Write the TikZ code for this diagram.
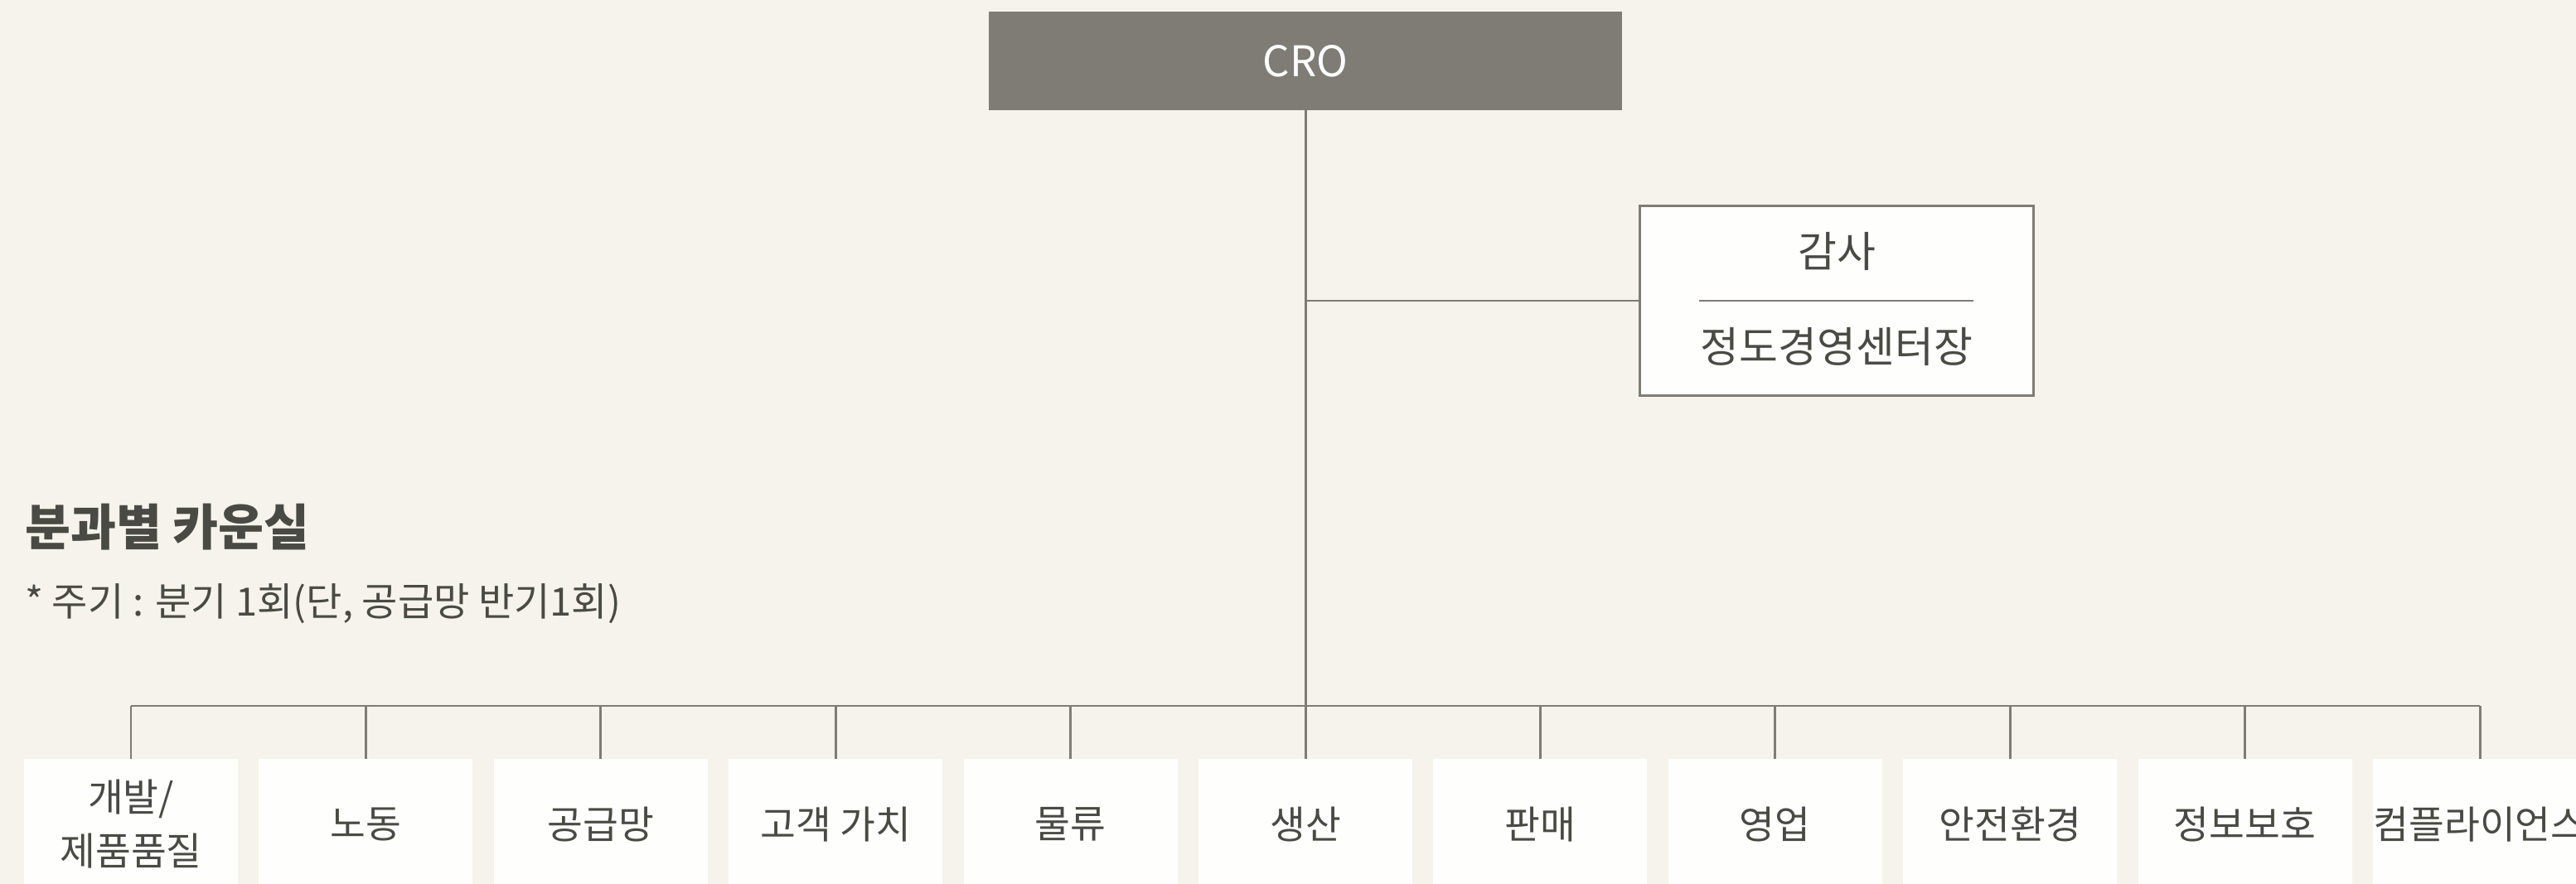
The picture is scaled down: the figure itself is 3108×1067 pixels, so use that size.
\documentclass[tikz,border=0pt]{standalone}
\usepackage{fontspec}
\setmainfont{Noto Sans CJK KR}
\usepackage{tikz}
\usetikzlibrary{positioning,calc}
\definecolor{bgcolor}{RGB}{245,243,236}
\definecolor{headcolor}{RGB}{126,124,117}
\definecolor{linecolor}{RGB}{126,124,117}
\definecolor{textcolor}{RGB}{74,74,69}
\definecolor{boxcolor}{RGB}{254,254,252}
\tikzset{every node/.append style={align=center}}
\tikzset{
  unitbox/.style={fill=boxcolor, minimum width=5.16cm, minimum height=3.16cm, inner sep=0pt, text=textcolor, font=\fontsize{26.5}{37}\selectfont},
  orgline/.style={draw=linecolor, line width=1.7pt},
}

\begin{document}
\begin{tikzpicture}[x=0.02cm, y=-0.02cm]
        % Page
        \fill[bgcolor] (0,0) rectangle (3108,1067);
        \useasboundingbox (0,0) rectangle (3108,1067);
        \clip (0,0) rectangle (3108,1067);

        % Head
        \node[fill=headcolor, minimum width=15.3cm, minimum height=2.38cm, text=white, font=\fontsize{29}{34}\selectfont] (cro) at (1575,73.5) {CRO};

        % Audit
        \node[draw=linecolor, line width=1.7pt, fill=boxcolor, minimum width=9.52cm, minimum height=4.6cm] (audit) at (2216,363) {};
        \node[text=textcolor, font=\fontsize{29}{33}\selectfont] (auditTop) at (2216,303) {감사};
        \node[text=textcolor, font=\fontsize{29}{33}\selectfont] (auditBottom) at (2216,418) {정도경영센터장};
        \draw[orgline] ([xshift=1.46cm]audit.west) -- ([xshift=-1.48cm]audit.east);

        % Council title
        \node[anchor=west, inner sep=0pt, text=textcolor, font=\fontsize{34}{40}\selectfont\bfseries] (title) at (30,636) {분과별 카운실};
        \node[anchor=west, inner sep=0pt, text=textcolor, font=\fontsize{26.8}{32}\selectfont] (note) at (30,729) {* 주기 : 분기 1회(단, 공급망 반기1회)};

        % Councils
        \node[unitbox] (b1) at (158,995) {개발/\\제품품질};
        \node[unitbox] (b2) at (441.4,995) {노동};
        \node[unitbox] (b3) at (724.8,995) {공급망};
        \node[unitbox] (b4) at (1008.2,995) {고객 가치};
        \node[unitbox] (b5) at (1291.6,995) {물류};
        \node[unitbox] (b6) at (1575,995) {생산};
        \node[unitbox] (b7) at (1858.4,995) {판매};
        \node[unitbox] (b8) at (2141.8,995) {영업};
        \node[unitbox] (b9) at (2425.2,995) {안전환경};
        \node[unitbox] (b10) at (2708.6,995) {정보보호};
        \node[unitbox] (b11) at (2992,995) {컴플라이언스};

        % Lines
        \coordinate (hub) at (1575,852);
        \draw[orgline] (cro.south) -- (hub);
        \draw[orgline] (cro.south |- audit.west) -- (audit.west);
        \draw[orgline] (b1.north |- hub) -- (b11.north |- hub);
        \draw[orgline] (b1.north) -- (b1.north |- hub);
        \draw[orgline] (b2.north) -- (b2.north |- hub);
        \draw[orgline] (b3.north) -- (b3.north |- hub);
        \draw[orgline] (b4.north) -- (b4.north |- hub);
        \draw[orgline] (b5.north) -- (b5.north |- hub);
        \draw[orgline] (b6.north) -- (hub);
        \draw[orgline] (b7.north) -- (b7.north |- hub);
        \draw[orgline] (b8.north) -- (b8.north |- hub);
        \draw[orgline] (b9.north) -- (b9.north |- hub);
        \draw[orgline] (b10.north) -- (b10.north |- hub);
        \draw[orgline] (b11.north) -- (b11.north |- hub);
\end{tikzpicture}
\end{document}
